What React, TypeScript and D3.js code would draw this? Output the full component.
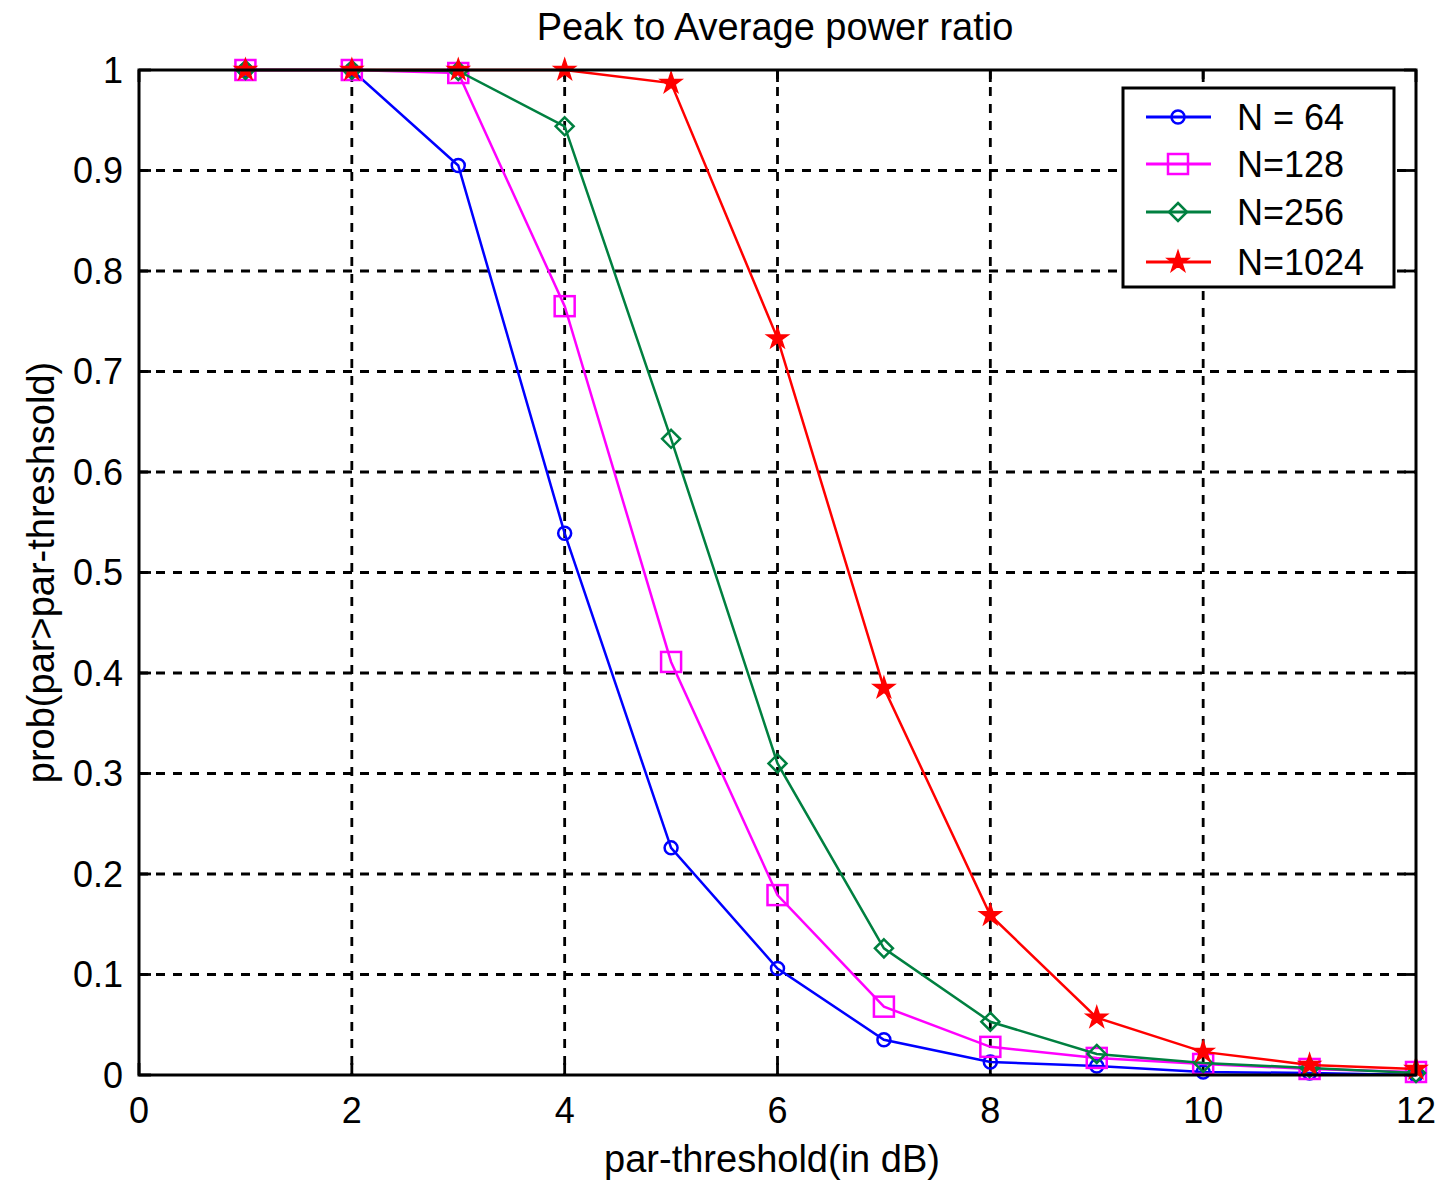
import * as d3 from 'd3';

const thresholds = [1, 2, 3, 4, 5, 6, 7, 8, 9, 10, 11, 12];
const n64 = [1.0, 1.0, 0.905, 0.539, 0.226, 0.106, 0.035, 0.013, 0.009, 0.003, 0.002, 0.0];
const n128 = [1.0, 1.0, 0.997, 0.765, 0.411, 0.179, 0.068, 0.028, 0.017, 0.011, 0.006, 0.003];
const n256 = [1.0, 1.0, 0.999, 0.944, 0.633, 0.31, 0.126, 0.053, 0.021, 0.012, 0.007, 0.002];
const n1024 = [1.0, 1.0, 1.0, 1.0, 0.987, 0.733, 0.385, 0.159, 0.057, 0.023, 0.01, 0.006];

const xTicks = [0, 2, 4, 6, 8, 10, 12];
const yTicks = [0, 0.1, 0.2, 0.3, 0.4, 0.5, 0.6, 0.7, 0.8, 0.9, 1];

const series = [
  { name: 'N = 64', values: n64, color: '#0000ff', marker: 'circle' },
  { name: 'N=128', values: n128, color: '#ff00ff', marker: 'square' },
  { name: 'N=256', values: n256, color: '#008040', marker: 'diamond' },
  { name: 'N=1024', values: n1024, color: '#ff0000', marker: 'star' },
];

const W = 1436;
const H = 1183;
const left = 139, right = 1416, top = 70, bottom = 1075;
const FONT = '"Liberation Sans", Arial, sans-serif';

const x = d3.scaleLinear().domain([0, 12]).range([left, right]);
const y = d3.scaleLinear().domain([0, 1]).range([bottom, top]);

const lineGen = d3.line<number>()
  .x((_, i) => x(thresholds[i]))
  .y(d => y(d));

const starPath = d3.symbol().type(d3.symbolStar).size(140)() as string;

function Marker({ kind, cx, cy, color }: { kind: string; cx: number; cy: number; color: string }) {
  if (kind === 'circle') {
    return <circle cx={cx} cy={cy} r={6.5} fill="none" stroke={color} strokeWidth={2.5} />;
  }
  if (kind === 'square') {
    return <rect x={cx - 10} y={cy - 10} width={20} height={20} fill="none" stroke={color} strokeWidth={2.5} />;
  }
  if (kind === 'diamond') {
    const r = 9;
    return (
      <path
        d={`M${cx},${cy - r}L${cx + r},${cy}L${cx},${cy + r}L${cx - r},${cy}Z`}
        fill="none" stroke={color} strokeWidth={2.5}
      />
    );
  }
  return <path d={starPath} transform={`translate(${cx},${cy})`} fill={color} stroke={color} strokeWidth={1.5} />;
}

export default function App() {
  const legX = 1123, legY = 88, legW = 271, legH = 199;
  const legRow = [117, 164, 212, 262];
  return (
    <svg width={W} height={H} style={{ position: 'absolute', left: 0, top: 0, background: '#fff' }} fontFamily={FONT}>
      <rect x={0} y={0} width={W} height={H} fill="#fff" />
      {/* grid */}
      <g stroke="#000" strokeWidth={2.8} strokeDasharray="9,8">
        {xTicks.slice(1, -1).map(t => (
          <line key={'gx' + t} x1={x(t)} x2={x(t)} y1={top} y2={bottom} />
        ))}
        {yTicks.slice(1, -1).map(t => (
          <line key={'gy' + t} x1={left} x2={right} y1={y(t)} y2={y(t)} />
        ))}
      </g>
      {/* ticks */}
      <g stroke="#000" strokeWidth={2.8}>
        {xTicks.map(t => (
          <g key={'tx' + t}>
            <line x1={x(t)} x2={x(t)} y1={bottom} y2={bottom - 12} />
            <line x1={x(t)} x2={x(t)} y1={top} y2={top + 12} />
          </g>
        ))}
        {yTicks.map(t => (
          <g key={'ty' + t}>
            <line x1={left} x2={left + 12} y1={y(t)} y2={y(t)} />
            <line x1={right} x2={right - 12} y1={y(t)} y2={y(t)} />
          </g>
        ))}
      </g>
      {/* series */}
      {series.map(s => (
        <g key={s.name}>
          <path d={lineGen(s.values) as string} fill="none" stroke={s.color} strokeWidth={2.5} />
          {s.values.map((v, i) => (
            <Marker key={i} kind={s.marker} cx={x(thresholds[i])} cy={y(v)} color={s.color} />
          ))}
        </g>
      ))}
      {/* axes box */}
      <rect x={left} y={top} width={right - left} height={bottom - top} fill="none" stroke="#000" strokeWidth={3} />
      {/* tick labels */}
      <g fontSize={36} fill="#000">
        {xTicks.map(t => (
          <text key={'lx' + t} x={x(t)} y={1123} textAnchor="middle">{t}</text>
        ))}
        {yTicks.map(t => (
          <text key={'ly' + t} x={123} y={y(t)} dy="0.35em" textAnchor="end">{t === 0 || t === 1 ? String(t) : t.toFixed(1)}</text>
        ))}
      </g>
      {/* titles */}
      <text x={775} y={40} textAnchor="middle" fontSize={38}>Peak to Average power ratio</text>
      <text x={772} y={1172} textAnchor="middle" fontSize={38}>par-threshold(in dB)</text>
      <text transform={`translate(54,${(top + bottom) / 2}) rotate(-90)`} textAnchor="middle" fontSize={38}>prob(par&gt;par-threshsold)</text>
      {/* legend */}
      <rect x={legX} y={legY} width={legW} height={legH} fill="#fff" stroke="#000" strokeWidth={3} />
      {series.map((s, i) => (
        <g key={'leg' + s.name}>
          <line x1={1146} x2={1211} y1={legRow[i]} y2={legRow[i]} stroke={s.color} strokeWidth={3} />
          <Marker kind={s.marker} cx={1178} cy={legRow[i]} color={s.color} />
          <text x={1237} y={legRow[i]} dy="0.36em" fontSize={36}>{s.name}</text>
        </g>
      ))}
    </svg>
  );
}
